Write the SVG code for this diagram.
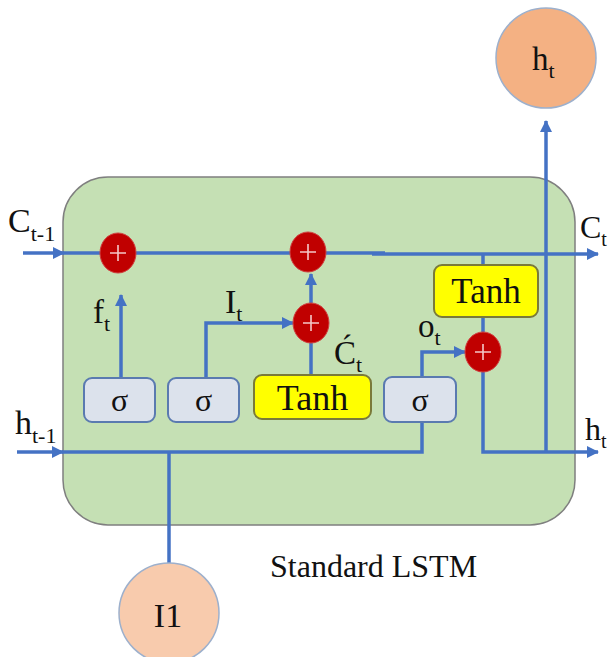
<svg xmlns="http://www.w3.org/2000/svg" width="610" height="657" viewBox="0 0 610 657">
<defs>
<style>
.ln{fill:none;stroke:#4472C4;stroke-width:3.5}
.arr{marker-end:url(#ah)}
.plus{fill:#C00000;stroke:#D04040;stroke-width:1}
.pm{stroke:#F4C8C8;stroke-width:1.6;fill:none}
.sig{fill:#DCE2EC;stroke:#5A7AB0;stroke-width:2}
.tanh{fill:#FFFF00;stroke:#7A7A3A;stroke-width:2}
.t{font-family:"Liberation Serif","Times New Roman",serif;fill:#111}
.out{fill:#F4B183;stroke:#9DB0CC;stroke-width:1.5}
.in{fill:#F8CBAD;stroke:#9DB0CC;stroke-width:1.5}
</style>
<marker id="ah" viewBox="0 0 12 12" refX="11" refY="6" markerWidth="12" markerHeight="12" markerUnits="userSpaceOnUse" orient="auto">
<path d="M0 0 L12 6 L0 12 Z" fill="#4472C4"/>
</marker>
</defs>
<rect width="610" height="657" fill="#FFFFFF"/>
<g id="lstm-cell">
<rect x="63" y="177" width="512" height="348" rx="45" ry="45" fill="#C5E0B4" stroke="#7F7F7F" stroke-width="1.5"/>
</g>
<g id="connectors">
<path class="ln arr" d="M23 253 H64"/>
<path class="ln" d="M63 253 H385"/>
<path class="ln arr" d="M372 254 H598"/>
<path class="ln arr" d="M17 452 H63"/>
<path class="ln" d="M62 452 H422 V422"/>
<path class="ln" d="M169 452 V563"/>
<path class="ln arr" d="M121 378 V295"/>
<path class="ln arr" d="M206 378 V323 H293"/>
<path class="ln" d="M311 375 V343"/>
<path class="ln arr" d="M311 303 V274"/>
<path class="ln arr" d="M422 376 V352 H465"/>
<path class="ln" d="M483 254 V265"/>
<path class="ln" d="M483 317 V332"/>
<path class="ln arr" d="M483 372 V452 H598"/>
<path class="ln arr" d="M546 452 V121"/>
</g>
<g id="plus-forget">
<ellipse class="plus" cx="118" cy="253" rx="18" ry="20"/>
<path class="pm" d="M110 253 H126 M118 245 V261"/>
</g>
<g id="plus-cell">
<ellipse class="plus" cx="308" cy="252" rx="18" ry="20"/>
<path class="pm" d="M300 252 H316 M308 244 V260"/>
</g>
<g id="plus-input">
<ellipse class="plus" cx="311" cy="323" rx="18" ry="20"/>
<path class="pm" d="M303 323 H319 M311 315 V331"/>
</g>
<g id="plus-output">
<ellipse class="plus" cx="483" cy="352" rx="18" ry="20"/>
<path class="pm" d="M475 352 H491 M483 344 V360"/>
</g>
<g id="sigma-forget">
<rect class="sig" x="84" y="378" width="71" height="44" rx="8"/>
<text class="t" x="119.5" y="411" font-size="32" text-anchor="middle">σ</text>
</g>
<g id="sigma-input">
<rect class="sig" x="168" y="378" width="71" height="44" rx="8"/>
<text class="t" x="203.5" y="411" font-size="32" text-anchor="middle">σ</text>
</g>
<g id="tanh-input">
<rect class="tanh" x="254" y="375" width="117" height="44" rx="8"/>
<text class="t" x="312.5" y="410" font-size="36" text-anchor="middle">Tanh</text>
</g>
<g id="sigma-output">
<rect class="sig" x="384" y="377" width="72" height="45" rx="8"/>
<text class="t" x="420" y="411" font-size="32" text-anchor="middle">σ</text>
</g>
<g id="tanh-cell">
<rect class="tanh" x="434" y="265" width="104" height="52" rx="8"/>
<text class="t" x="486" y="303" font-size="35" text-anchor="middle">Tanh</text>
</g>
<g id="output-ht">
<circle class="out" cx="546" cy="58" r="50"/>
<text class="t" x="532" y="70" font-size="33">h<tspan font-size="22" dy="8">t</tspan></text>
</g>
<g id="input-I1">
<circle class="in" cx="169" cy="613" r="50"/>
<text class="t" x="168" y="627" font-size="34" text-anchor="middle">I1</text>
</g>
<g id="labels">
<text class="t" x="8" y="232" font-size="34">C<tspan font-size="22" dy="9">t-1</tspan></text>
<text class="t" x="580" y="238" font-size="32">C<tspan font-size="20" dy="8">t</tspan></text>
<text class="t" x="15" y="434" font-size="34">h<tspan font-size="22" dy="9">t-1</tspan></text>
<text class="t" x="585" y="440" font-size="32">h<tspan font-size="20" dy="8">t</tspan></text>
<text class="t" x="93" y="323" font-size="33">f<tspan font-size="22" dy="8">t</tspan></text>
<text class="t" x="225" y="313" font-size="34">I<tspan font-size="22" dy="8">t</tspan></text>
<text class="t" x="418" y="337" font-size="33">o<tspan font-size="22" dy="8">t</tspan></text>
<text class="t" x="334" y="364" font-size="33">Ć<tspan font-size="22" dy="8">t</tspan></text>
<text class="t" x="270" y="577" font-size="32">Standard LSTM</text>
</g>
</svg>
